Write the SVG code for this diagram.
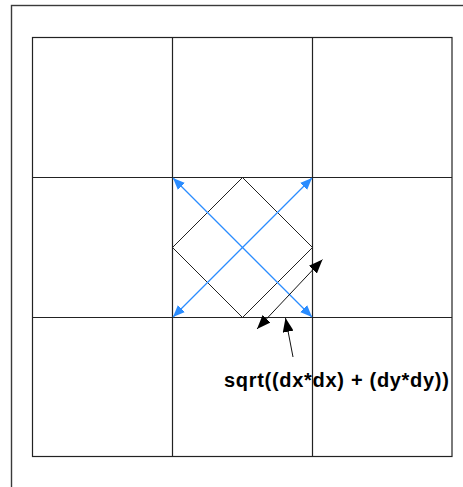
<svg xmlns="http://www.w3.org/2000/svg" width="463" height="487" viewBox="0 0 463 487">
<style>
.frame{fill:none;stroke:#3a3a3a;stroke-width:1.4}
.grid{fill:none;stroke:#222;stroke-width:1.2}
.thin{fill:none;stroke:#222;stroke-width:1}
.blue{fill:none;stroke:#2a8cff;stroke-width:1.3}
.blk{fill:none;stroke:#111;stroke-width:1}
.lbl{font-family:"Liberation Sans",Arial,sans-serif;font-weight:bold;font-size:20px;letter-spacing:0.7px;fill:#000}
</style>
<defs>
<marker id="ab" viewBox="0 0 12 10" refX="12" refY="5" markerWidth="12" markerHeight="10" markerUnits="userSpaceOnUse" orient="auto-start-reverse">
<path d="M0,0 L12,5 L0,10 Z" fill="#2a8cff"/>
</marker>
<marker id="ak" viewBox="0 0 14 11" refX="14" refY="5.5" markerWidth="14" markerHeight="11" markerUnits="userSpaceOnUse" orient="auto-start-reverse">
<path d="M0,0 L14,5.5 L0,11 Z" fill="#000"/>
</marker>
</defs>
<rect width="463" height="487" fill="#fff"/>
<g id="frame">
<rect class="frame" x="11.5" y="5.5" width="470" height="500"/>
</g>
<g id="grid">
<rect class="grid" x="32.5" y="37.5" width="419.5" height="419"/>
<line class="grid" x1="172.5" y1="37.5" x2="172.5" y2="456.5"/>
<line class="grid" x1="312.5" y1="37.5" x2="312.5" y2="456.5"/>
<line class="grid" x1="32.5" y1="177.5" x2="452" y2="177.5"/>
<line class="grid" x1="32.5" y1="317.5" x2="452" y2="317.5"/>
</g>
<g id="diamond">
<polygon class="thin" points="242.5,177.5 312.5,247.5 242.5,317.5 172.5,247.5"/>
</g>
<g id="connectors">
<line class="blue" x1="173" y1="178" x2="312" y2="317" marker-start="url(#ab)" marker-end="url(#ab)"/>
<line class="blue" x1="312" y1="178" x2="173" y2="317" marker-start="url(#ab)" marker-end="url(#ab)"/>
<line class="blk" x1="257" y1="329" x2="322.5" y2="259.5" marker-start="url(#ak)" marker-end="url(#ak)"/>
<line class="blk" x1="293" y1="357" x2="285.5" y2="318" marker-end="url(#ak)"/>
</g>
<g id="label">
<text class="lbl" x="224" y="387">sqrt((dx*dx) + (dy*dy))</text>
</g>
</svg>
